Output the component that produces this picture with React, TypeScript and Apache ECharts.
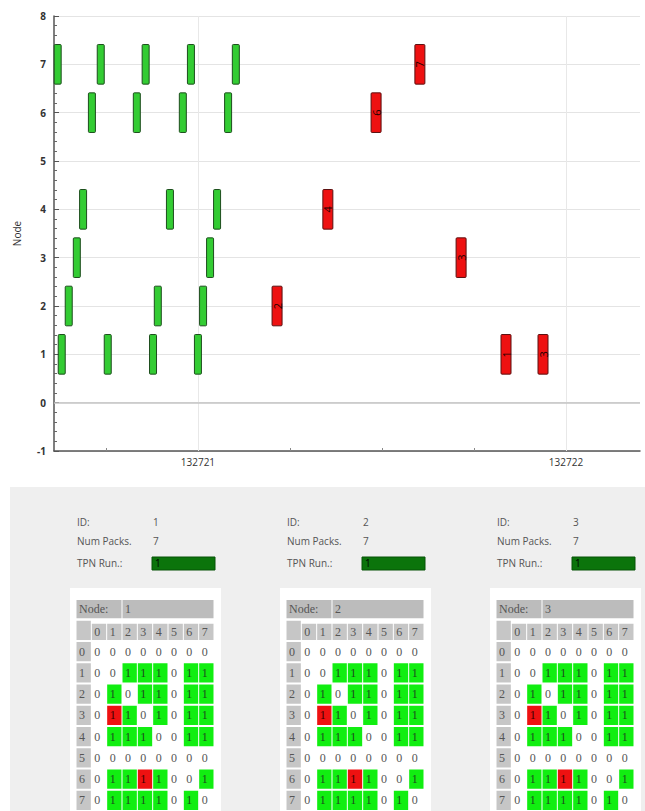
import React, { useEffect, useRef } from "react";
import * as echarts from "echarts";

// ---------- top chart data ----------
const xMin = 132720.609;
const xMax = 132722.201;
const xTickValues = [132721, 132722];
const xMinorTickValues = [132720.75, 132721.25, 132721.5, 132721.75];
const nodeMin = -1;
const nodeMax = 8;

const packetTimes = [
  132720.619, 132720.736, 132720.858, 132720.981, 132721.103, 132721.603,
  132720.712, 132720.834, 132720.959, 132721.082, 132721.484,
  132720.688, 132720.924, 132721.052, 132721.353,
  132720.671, 132721.033, 132721.715,
  132720.649, 132720.891, 132721.014, 132721.215,
  132720.63, 132720.755, 132720.878, 132721.0, 132721.837, 132721.9375,
];
const packetNodes = [7, 7, 7, 7, 7, 7, 6, 6, 6, 6, 6, 4, 4, 4, 4, 3, 3, 3, 2, 2, 2, 2, 1, 1, 1, 1, 1, 1];
const packetFailed = [0, 0, 0, 0, 0, 1, 0, 0, 0, 0, 1, 0, 0, 0, 1, 0, 0, 1, 0, 0, 0, 1, 0, 0, 0, 0, 1, 1];
const packetLabels = ["", "", "", "", "", "7", "", "", "", "", "6", "", "", "", "4", "", "", "3", "", "", "", "2", "", "", "", "", "1", "3"];

// ---------- panel data ----------
const panelIds = [1, 2, 3];
const panelNumPacks = [7, 7, 7];
const panelTpnRun = [1, 1, 1];
const matrixColumns = [0, 1, 2, 3, 4, 5, 6, 7];
// 0 = no link, 1 = link ok (green), 2 = link failed (red, shows "1")
const linkMatrix = [
  [0, 0, 0, 0, 0, 0, 0, 0],
  [0, 0, 1, 1, 1, 0, 1, 1],
  [0, 1, 0, 1, 1, 0, 1, 1],
  [0, 2, 1, 0, 1, 0, 1, 1],
  [0, 1, 1, 1, 0, 0, 1, 1],
  [0, 0, 0, 0, 0, 0, 0, 0],
  [0, 1, 1, 2, 1, 0, 0, 1],
  [0, 1, 1, 1, 1, 0, 1, 0],
];

const SANS = '"Open Sans", "Noto Sans", sans-serif';
const SERIF = '"Liberation Serif", "DejaVu Serif", serif';

function buildTable(id: number) {
  const d: number[][] = [];
  d.push([0, 0, 3, 0, 0]);
  d.push([3, 0, 6, 1, id]);
  d.push([0, 1, 1, 3, -1]);
  matrixColumns.forEach((c, i) => d.push([i + 1, 1, 1, 2, c]));
  linkMatrix.forEach((row, r) => {
    d.push([0, r + 2, 1, 3, r]);
    row.forEach((v, c) => {
      d.push([c + 1, r + 2, 1, v === 0 ? 4 : v === 1 ? 5 : 6, v === 0 ? 0 : 1]);
    });
  });
  return d;
}

export default function App() {
  const ref = useRef<HTMLDivElement>(null);
  useEffect(() => {
    document.body.style.margin = "0";
    if (!ref.current) return;
    const chart = echarts.init(ref.current, undefined, { renderer: "svg" });

    const barData = packetTimes.map((t, i) => [t, packetNodes[i], packetFailed[i]]);

    const tableLeft = (i: number) => 76 + 210 * i;

    const grids: any[] = [{ left: 54, top: 16, width: 586, height: 435 }];
    const xAxes: any[] = [
      {
        type: "value", gridIndex: 0, min: xMin, max: xMax,
        axisLine: { show: true, onZero: false, lineStyle: { color: "#555", width: 1.5 } },
        axisTick: { show: true, inside: true, length: 5, customValues: xTickValues, lineStyle: { color: "#555" } },
        axisLabel: { show: true, customValues: xTickValues, formatter: (v: number) => String(Math.round(v)), color: "#333", fontSize: 10, fontFamily: SANS, margin: 6 },
        splitLine: { show: false },
      },
      {
        type: "value", gridIndex: 0, min: xMin, max: xMax, position: "top", offset: -435,
        axisLine: { show: false },
        axisTick: { show: true, inside: false, length: 3, customValues: xMinorTickValues, lineStyle: { color: "#888" } },
        axisLabel: { show: false },
        splitLine: { show: false },
      },
    ];
    const yAxes: any[] = [
      {
        type: "value", gridIndex: 0, min: nodeMin, max: nodeMax, interval: 1,
        name: "Node", nameLocation: "middle", nameGap: 32,
        nameTextStyle: { color: "#333", fontSize: 10, fontFamily: SANS },
        axisLine: { show: true, onZero: false, lineStyle: { color: "#555", width: 1.5 } },
        axisTick: { show: true, inside: true, length: 5, lineStyle: { color: "#555" } },
        minorTick: { show: true, splitNumber: 5, length: 3, lineStyle: { color: "#666" } },
        axisLabel: { color: "#333", fontSize: 10, fontWeight: "bold", fontFamily: SANS, margin: 8 },
        splitLine: { show: true, lineStyle: { color: "#e4e4e4" } },
      },
    ];

    const series: any[] = [
      {
        type: "line", xAxisIndex: 0, yAxisIndex: 0, data: [], z: 1, silent: true,
        markLine: {
          z: 1, silent: true, symbol: ["none", "none"], label: { show: false }, animation: false,
          lineStyle: { color: "#e8e8e8", type: "solid", width: 1 },
          data: [
            ...xTickValues.map((v) => ({ xAxis: v })),
            { yAxis: 0, lineStyle: { color: "#c4c4c4", type: "solid", width: 1.5 } },
          ],
        },
      },
      {
        type: "custom", xAxisIndex: 0, yAxisIndex: 0, z: 3,
        data: barData,
        renderItem: (params: any, api: any) => {
          const x = api.value(0);
          const node = api.value(1);
          const failed = api.value(2) === 1;
          const top = api.coord([x, node + 0.41]);
          const bot = api.coord([x, node - 0.41]);
          const w = failed ? 10 : 7;
          const children: any[] = [
            {
              type: "rect",
              shape: { x: top[0] - w / 2, y: top[1], width: w, height: bot[1] - top[1], r: 1 },
              style: { fill: failed ? "#ee1111" : "#33cc33", stroke: failed ? "#5a1010" : "#1d4d1d", lineWidth: 1 },
            },
          ];
          const label = packetLabels[params.dataIndex];
          if (label) {
            children.push({
              type: "text", x: top[0], y: (top[1] + bot[1]) / 2, rotation: Math.PI / 2,
              style: { text: label, fill: "#220000", fontSize: 11, fontFamily: SANS, align: "center", verticalAlign: "middle" },
            });
          }
          return { type: "group", children };
        },
      },
    ];

    const graphic: any[] = [
      { type: "rect", z: -10, shape: { x: 10, y: 487, width: 635, height: 324 }, style: { fill: "#efefef" } },
    ];

    panelIds.forEach((id, i) => {
      const bx = tableLeft(i);
      graphic.push({ type: "rect", z: -5, shape: { x: bx - 6, y: 588, width: 151, height: 223 }, style: { fill: "#ffffff" } });
      const lab = (text: string, x: number, y: number, fill = "#555") => ({
        type: "text", z: 5, x, y, style: { text, fill, fontSize: 10, fontFamily: SANS, verticalAlign: "middle", align: "left" },
      });
      graphic.push(lab("ID:", bx + 1, 522));
      graphic.push(lab(String(id), bx + 77, 522));
      graphic.push(lab("Num Packs.", bx + 1, 541));
      graphic.push(lab(String(panelNumPacks[i]), bx + 77, 541));
      graphic.push(lab("TPN Run.:", bx + 1, 563));
      graphic.push({ type: "rect", z: 4, shape: { x: bx + 76, y: 557, width: 63, height: 13 }, style: { fill: "#0b740b", stroke: "#075207", lineWidth: 1 } });
      graphic.push(lab(String(panelTpnRun[i]), bx + 79, 563, "#000"));

      grids.push({ left: bx, top: 598.5, width: 138, height: 213.5 });
      xAxes.push({ type: "value", gridIndex: i + 1, min: 0, max: 9, show: false });
      yAxes.push({ type: "value", gridIndex: i + 1, min: 0, max: 10, inverse: true, show: false });
      series.push({
        type: "custom", xAxisIndex: i + 2, yAxisIndex: i + 1, z: 3,
        data: buildTable(id),
        renderItem: (_p: any, api: any) => {
          const c = api.value(0), r = api.value(1), span = api.value(2), kind = api.value(3), digit = api.value(4);
          const p0 = api.coord([c, r]);
          const p1 = api.coord([c + span, r + 1]);
          const children: any[] = [];
          let fill: string | null = null;
          let ty0 = p0[1] + 1, ty1 = p1[1] - 1;
          if (kind === 0 || kind === 1) { fill = "#bcbcbc"; ty0 = p0[1] + 1.5; ty1 = p1[1] - 1.5; }
          else if (kind === 2) { fill = "#c6c6c6"; ty0 = p0[1] + 4; ty1 = p1[1] - 1; }
          else if (kind === 3) fill = "#c6c6c6";
          else if (kind === 5) fill = "#11ee11";
          else if (kind === 6) fill = "#ee1111";
          if (fill) {
            children.push({ type: "rect", shape: { x: p0[0] + 0.5, y: ty0, width: p1[0] - p0[0] - 1, height: ty1 - ty0 }, style: { fill } });
          }
          let text = "";
          if (kind === 0) text = "Node:";
          else if (digit >= 0) text = String(digit);
          if (text) {
            const color = kind === 5 ? "#1d4a1d" : kind === 6 ? "#3a0000" : "#555";
            children.push({
              type: "text", x: p0[0] + 3, y: (ty0 + ty1) / 2,
              style: { text, fill: color, fontSize: 12, fontFamily: SERIF, align: "left", verticalAlign: "middle" },
            });
          }
          return { type: "group", children };
        },
      });
    });

    chart.setOption({
      animation: false,
      grid: grids,
      xAxis: xAxes,
      yAxis: yAxes,
      series,
      graphic,
    });
    return () => chart.dispose();
  }, []);
  return <div ref={ref} style={{ width: 645, height: 811 }} />;
}
